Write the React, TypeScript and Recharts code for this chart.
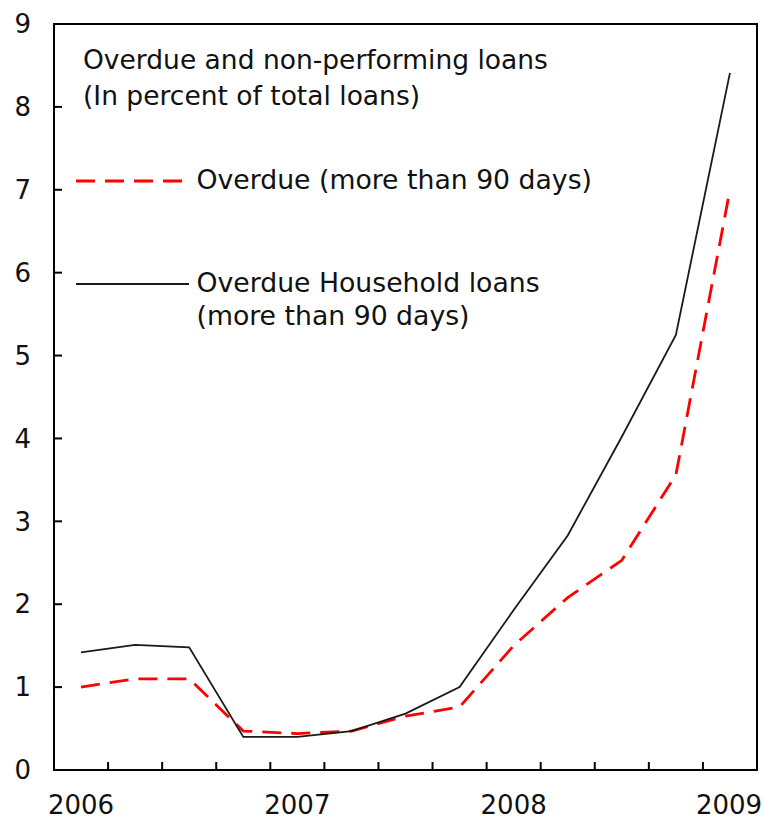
import React from 'react';
import { LineChart, Line, XAxis, YAxis, ReferenceArea, Legend } from 'recharts';

const quarters = ['2006Q1', '2006Q2', '2006Q3', '2006Q4', '2007Q1', '2007Q2', '2007Q3', '2007Q4', '2008Q1', '2008Q2', '2008Q3', '2008Q4', '2009Q1'];
const overdue = [1.0, 1.1, 1.1, 0.47, 0.44, 0.47, 0.65, 0.76, 1.5, 2.08, 2.53, 3.56, 7.0];
const household = [1.42, 1.51, 1.48, 0.4, 0.4, 0.47, 0.68, 1.0, 1.93, 2.83, 4.02, 5.25, 8.41];
const yearTickIndex = [0, 4, 8, 12];
const yearLabels = ['2006', '2007', '2008', '2009'];
const yTicks = [0, 1, 2, 3, 4, 5, 6, 7, 8, 9];
const titleLines = ['Overdue and non-performing loans', '(In percent of total loans)'];
const seriesNames = ['Overdue (more than 90 days)', 'Overdue Household loans (more than 90 days)'];
const legendLines = [['Overdue (more than 90 days)'], ['Overdue Household loans', '(more than 90 days)']];

const data = quarters.map((q, i) => ({ idx: i, quarter: q, overdue: overdue[i], household: household[i] }));
const boundaryTicks = quarters.slice(1).map((_, i) => i + 0.5);
const xTicks = [...boundaryTicks, ...yearTickIndex];

const FONT = '"DejaVu Sans", sans-serif';
const TEXT = '#111';
const CHART_W = 764;
const CHART_H = 819;

const XTick = (props: any) => {
  const { x, y, payload } = props;
  const k = yearTickIndex.indexOf(payload.value);
  if (k >= 0) {
    const lx = Math.min(x, CHART_W - 35);
    return (
      <text x={lx} y={y + 44} textAnchor="middle" fontFamily={FONT} fontSize={26} fill={TEXT}>
        {yearLabels[k]}
      </text>
    );
  }
  return <line x1={x} x2={x} y1={y} y2={y - 8} stroke="#000" strokeWidth={2} />;
};

const styles: Record<string, { stroke: string; width: number; dash?: string }> = {
  overdue: { stroke: '#ff0000', width: 2.8, dash: '19 10' },
  household: { stroke: '#1a1a1a', width: 1.8 },
};

const LegendContent = (props: any) => {
  const payload = props.payload || [];
  const sampleY = [181, 284];
  const textY = [[188.5], [292, 325]];
  return (
    <svg width={620} height={340} style={{ overflow: 'visible', display: 'block' }}>
      <text x={83} y={69} fontFamily={FONT} fontSize={26.5} fill={TEXT}>{titleLines[0]}</text>
      <text x={83} y={105} fontFamily={FONT} fontSize={26.5} fill={TEXT}>{titleLines[1]}</text>
      {payload.map((entry: any, i: number) => {
        const st = styles[entry.dataKey as string] || { stroke: entry.color, width: 2 };
        return (
          <g key={i}>
            <line x1={76} x2={189} y1={sampleY[i]} y2={sampleY[i]} stroke={st.stroke} strokeWidth={st.width} strokeDasharray={st.dash} />
            {legendLines[i].map((t, j) => (
              <text key={j} x={196.5} y={textY[i][j]} fontFamily={FONT} fontSize={26.7} fill={TEXT}>{t}</text>
            ))}
          </g>
        );
      })}
    </svg>
  );
};

export default function App() {
  return (
    <div style={{ position: 'absolute', left: 0, top: 0, width: CHART_W, height: CHART_H }}>
      <LineChart width={CHART_W} height={CHART_H} data={data} margin={{ top: 24, right: 7, bottom: 0, left: 0 }}>
        <XAxis
          dataKey="idx"
          type="number"
          domain={[-0.5, 12.5]}
          allowDataOverflow
          ticks={xTicks}
          interval={0}
          tick={<XTick />}
          tickLine={false}
          tickSize={0}
          tickMargin={0}
          height={49}
          axisLine={{ stroke: '#000', strokeWidth: 2 }}
        />
        <YAxis
          type="number"
          domain={[0, 9]}
          ticks={yTicks}
          interval={0}
          width={54}
          tickSize={-8}
          tickMargin={31}
          tickLine={{ stroke: '#000', strokeWidth: 2 }}
          axisLine={{ stroke: '#000', strokeWidth: 2 }}
          tick={{ fontFamily: FONT, fontSize: 26, fill: TEXT }}
        />
        <ReferenceArea x1={-0.5} x2={12.5} y1={0} y2={9} fill="none" fillOpacity={0} stroke="#000" strokeWidth={2} ifOverflow="visible" />
        <Line
          dataKey="overdue"
          name={seriesNames[0]}
          stroke={styles.overdue.stroke}
          strokeWidth={styles.overdue.width}
          strokeDasharray={styles.overdue.dash}
          dot={false}
          activeDot={false}
          isAnimationActive={false}
        />
        <Line
          dataKey="household"
          name={seriesNames[1]}
          stroke={styles.household.stroke}
          strokeWidth={styles.household.width}
          dot={false}
          activeDot={false}
          isAnimationActive={false}
        />
        <Legend
          layout="horizontal"
          verticalAlign="middle"
          align="center"
          content={<LegendContent />}
          wrapperStyle={{ left: 0, top: 0, width: 620, height: 340, pointerEvents: 'none' }}
        />
      </LineChart>
    </div>
  );
}
